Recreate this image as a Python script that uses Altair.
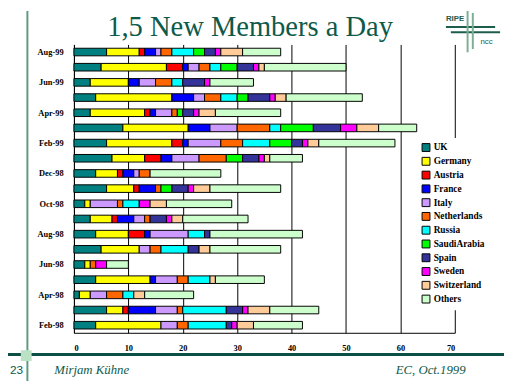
import altair as alt
import pandas as pd

months = ["Feb-98", "Mar-98", "Apr-98", "May-98", "Jun-98", "Jul-98", "Aug-98",
          "Sep-98", "Oct-98", "Nov-98", "Dec-98", "Jan-99", "Feb-99", "Mar-99",
          "Apr-99", "May-99", "Jun-99", "Jul-99", "Aug-99"]
countries = ["UK", "Germany", "Austria", "France", "Italy", "Netherlands", "Russia",
             "SaudiArabia", "Spain", "Sweden", "Switzerland", "Others"]
colors = ["#008080", "#FFFF00", "#FF0000", "#0000FF", "#CC99FF", "#FF6600", "#00FFFF",
          "#00FF00", "#333399", "#FF00FF", "#FFCC99", "#CCFFCC"]

uk          = [4, 6, 1, 4, 2, 5, 4, 3, 2, 6, 4, 7, 6, 9, 3, 4, 3, 5, 6]
germany     = [12, 3, 2, 10, 1, 7, 6, 4, 1, 5, 4, 6, 12, 12, 10, 14, 7, 12, 6]
austria     = [0, 1, 0, 0, 0, 0, 3, 1, 0, 1, 1, 3, 2, 0, 1, 0, 0, 3, 1]
france      = [0, 5, 0, 1, 0, 0, 1, 3, 0, 3, 2, 2, 1, 4, 1, 4, 2, 1, 2]
italy       = [3, 4, 3, 4, 0, 2, 7, 2, 5, 0, 1, 5, 6, 5, 3, 2, 3, 2, 1]
netherlands = [2, 1, 3, 2, 1, 2, 0, 1, 1, 1, 2, 5, 4, 6, 1, 3, 3, 2, 2]
russia      = [7, 8, 2, 4, 0, 5, 3, 0, 3, 0, 0, 0, 5, 2, 0, 3, 2, 2, 4]
saudiarabia = [0, 0, 0, 0, 0, 0, 0, 0, 0, 2, 0, 3, 4, 6, 1, 2, 0, 3, 2]
spain       = [1, 3, 0, 0, 0, 2, 1, 3, 0, 3, 0, 3, 2, 5, 2, 4, 4, 3, 2]
sweden      = [1, 1, 0, 0, 2, 0, 0, 1, 2, 1, 0, 1, 1, 3, 1, 1, 1, 1, 1]
switzerland = [3, 4, 2, 1, 0, 2, 0, 2, 3, 3, 0, 1, 2, 4, 3, 2, 0, 1, 4]
others      = [9, 9, 9, 9, 4, 13, 17, 12, 12, 13, 13, 6, 14, 7, 12, 14, 8, 15, 7]

series = [uk, germany, austria, france, italy, netherlands, russia,
          saudiarabia, spain, sweden, switzerland, others]

rows = []
for ci, (c, vals) in enumerate(zip(countries, series)):
    for m, v in zip(months, vals):
        if v > 0:
            rows.append({"month": m, "country": c, "count": v, "order": ci})
df = pd.DataFrame(rows)

TEAL = "#0E5A4A"
SERIF = "Liberation Serif"

bars = alt.Chart(df).mark_bar(stroke="black", strokeWidth=1).encode(
    x=alt.X("count:Q", stack="zero",
            scale=alt.Scale(domain=[0, 70], nice=False),
            axis=alt.Axis(values=list(range(0, 71, 10)), grid=True, gridColor="black",
                          gridWidth=1, gridOpacity=1, ticks=False, domainColor="black",
                          labelFont=SERIF, labelFontSize=8.5, labelFontWeight="bold",
                          labelColor="black", labelPadding=11, title=None)),
    y=alt.Y("month:N", sort=months[::-1],
            scale=alt.Scale(paddingInner=0.5, paddingOuter=0.25),
            axis=alt.Axis(values=months[::-2], ticks=False, domainColor="black",
                          labelFont=SERIF, labelFontSize=8.5, labelFontWeight="bold",
                          labelColor="black", labelPadding=11, title=None)),
    color=alt.Color("country:N", scale=alt.Scale(domain=countries, range=colors),
                    legend=alt.Legend(orient="none", legendX=348, legendY=95, title=None,
                                      symbolType="square", symbolSize=64,
                                      symbolStrokeColor="black", symbolStrokeWidth=1,
                                      symbolOpacity=1, labelFont=SERIF,
                                      labelFontWeight="bold", labelFontSize=9.5,
                                      labelColor="black", rowPadding=1,
                                      fillColor="white", padding=5, labelOffset=3)),
    order=alt.Order("order:Q"),
)


def one():
    return alt.Chart(alt.Data(values=[{"a": 1}]))


def rule(x, x2, y, y2, color, width):
    return one().mark_rule(color=color, strokeWidth=width).encode(
        x=alt.value(x), x2=alt.value(x2), y=alt.value(y), y2=alt.value(y2))


def text(label, x, y, size, font, color, align="left", style="normal", weight="normal"):
    return one().mark_text(text=label, align=align, baseline="alphabetic", fontSize=size,
                           font=font, color=color, fontStyle=style,
                           fontWeight=weight).encode(x=alt.value(x), y=alt.value(y))


decos = [
    rule(-47.3, -47.3, -34, 342, "#5E9A7E", 2),
    rule(-67, 437, 315, 315, "#0B4F45", 3),
    one().mark_rect(color="#BCE2C6").encode(x=alt.value(-54), x2=alt.value(-43),
                                             y=alt.value(310.7), y2=alt.value(321.7)),
    text("1,5 New Members a Day", 179, -9, 29, SERIF, TEAL, align="center"),
    text("23", -65, 335, 12, "Liberation Sans", TEAL, align="left"),
    text("Mirjam Kühne", -20, 335, 13, SERIF, TEAL, style="italic"),
    text("EC, Oct.1999", 398, 335, 13, SERIF, TEAL, align="right", style="italic"),
    rule(378, 428, -17.7, -17.7, "#1E5C4C", 2),
    rule(383, 433, -12.3, -12.3, "#1E5C4C", 2),
    rule(400, 400, -34, 8, "#7BAE94", 2),
    rule(405.3, 405.3, -32, 4.7, "#7BAE94", 2),
    text("RIPE", 378, -23.5, 8, "Liberation Sans", "#1E5C4C", weight="bold"),
    text("ncc", 413, -0.5, 8, "Liberation Sans", "#1E5C4C"),
]

chart = alt.layer(bars, *decos).properties(
    width=387, height=293,
    autosize=alt.AutoSizeParams(type="none"),
    padding={"left": 67, "top": 34, "right": 50, "bottom": 49},
).configure_view(stroke=None)

chart.save("out.html", embed_options={"renderer": "svg", "actions": False})
